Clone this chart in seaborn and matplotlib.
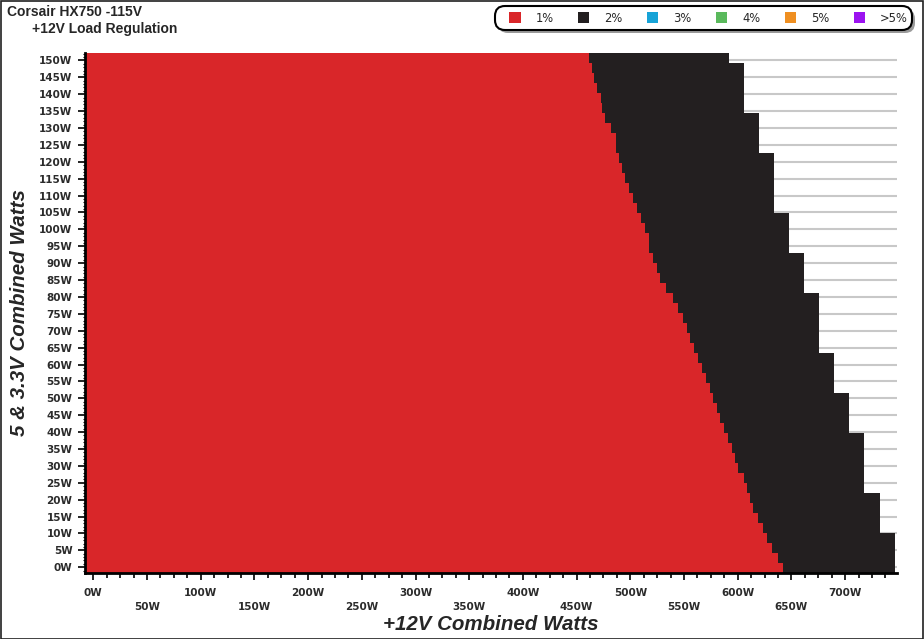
import numpy as np
import pandas as pd
import matplotlib
matplotlib.use("Agg")
import matplotlib.pyplot as plt
import seaborn as sns
from matplotlib.patches import Patch, FancyBboxPatch, Rectangle
from matplotlib.ticker import MultipleLocator, FixedLocator
from matplotlib.transforms import IdentityTransform

sns.set_style("white")
plt.rcParams['font.family'] = ['DejaVu Sans']

# ---------------- data ----------------
# 5 & 3.3V load grid (rows, bottom to top) spanning the plotted range
y_grid_low, y_grid_high, n_rows = -1.7, 152.2, 52
# +12V load where the 1% region ends (per row, bottom -> top)
red_end = [641.9, 637.8, 631.9, 627.0, 623.8, 619.2, 614.6, 611.5, 608.4, 605.9,
           600.6, 597.5, 594.4, 591.2, 587.2, 583.5, 580.4, 577.3, 574.2, 570.5,
           566.5, 563.3, 559.6, 555.6, 552.5, 549.3, 544.1, 540.0, 533.3, 527.7,
           524.6, 520.9, 517.4, 517.4, 513.7, 510.0, 506.0, 502.2, 499.1, 495.1,
           492.0, 489.8, 486.7, 486.7, 482.0, 476.4, 473.6, 472.4, 468.7, 466.2,
           464.3, 461.8]
# +12V load where the 2% region ends (per row, bottom -> top)
black_end = ([746] * 4 + [732] * 4 + [718] * 6 + [704] * 4 + [690] * 4 + [676] * 6 +
             [662] * 4 + [648] * 4 + [634] * 6 + [620] * 4 + [606] * 5 + [592] * 1)

legend_labels = ["1%", "2%", "3%", "4%", "5%", ">5%"]
legend_colors = ["#d92629", "#231f20", "#17a3d7", "#5ab95c", "#ef8f21", "#9b12f0"]

x_ticks = list(range(0, 701, 50))
y_ticks = list(range(0, 151, 5))

edges = np.linspace(y_grid_low, y_grid_high, n_rows + 1)
df = pd.DataFrame({"red": red_end, "black": black_end})

X_MIN, X_MAX = -7.7, 748.0

# ---------------- figure ----------------
W, H = 924, 639
fig = plt.figure(figsize=(W / 100, H / 100), dpi=100)
ax = fig.add_axes([85 / W, 66 / H, 811.7 / W, 520 / H])

ax.stairs(df["black"], edges, orientation="horizontal", baseline=X_MIN, fill=True,
          color=legend_colors[1], lw=0, zorder=2)
ax.stairs(df["red"], edges, orientation="horizontal", baseline=X_MIN, fill=True,
          color=legend_colors[0], lw=0, zorder=3)

ax.set_xlim(X_MIN, X_MAX)
ax.set_ylim(y_grid_low, y_grid_high)

ax.xaxis.set_major_locator(FixedLocator(x_ticks))
ax.xaxis.set_minor_locator(MultipleLocator(12.5))
ax.set_xticklabels([f"{v}W" if v % 100 == 0 else f"\n{v}W" for v in x_ticks])
ax.yaxis.set_major_locator(FixedLocator(y_ticks))
ax.yaxis.set_minor_locator(MultipleLocator(1))
ax.set_yticklabels([f"{v}W" for v in y_ticks])

ax.tick_params(axis="both", which="major", direction="out", length=5, width=1.2,
               color="black", labelsize=7.5, labelcolor="#2b2b2b", pad=4,
               bottom=True, left=True)
ax.tick_params(axis="x", which="major", pad=6)
ax.tick_params(axis="x", which="minor", direction="out", length=3.4, width=1.2,
               color="black", bottom=True)
ax.tick_params(axis="y", which="minor", direction="out", length=1.5, width=0.8,
               color="black", left=True)
for lab in ax.get_xticklabels() + ax.get_yticklabels():
    lab.set_fontweight("bold")
for lab in ax.get_xticklabels():
    lab.set_linespacing(1.45)

ax.set_axisbelow(True)
ax.yaxis.grid(True, which="major", color="#c8c8c8", lw=1.5)
ax.xaxis.grid(False)

for s in ["top", "right"]:
    ax.spines[s].set_visible(False)
for s in ["left", "bottom"]:
    ax.spines[s].set_color("black")
    ax.spines[s].set_linewidth(2)
    ax.spines[s].set_zorder(5)

lab_font = dict(family="Liberation Sans", weight="bold", style="italic", size=14.8)
ax.set_xlabel("+12V Combined Watts", **lab_font)
ax.xaxis.set_label_coords(0.5, -0.08)
ax.set_ylabel("5 & 3.3V Combined Watts", **lab_font)
ax.yaxis.set_label_coords(-0.0685, 0.5)

# titles
fig.text(7 / W, 1 - 12 / H, "Corsair HX750 -115V", family="Liberation Sans",
         weight="bold", size=10, ha="left", va="center")
fig.text(32 / W, 1 - 29 / H, "+12V Load Regulation", family="Liberation Sans",
         weight="bold", size=10, ha="left", va="center")

# legend box with shadow (pixel coordinates)
bx, by, bw, bh = 495, H - 30, 417, 24
shadow = FancyBboxPatch((bx + 3, by - 3), bw, bh, boxstyle="round,pad=0,rounding_size=10",
                        transform=IdentityTransform(), fc="#9a9a9a", ec="none", zorder=1)
frame = FancyBboxPatch((bx, by), bw, bh, boxstyle="round,pad=0,rounding_size=10",
                       transform=IdentityTransform(), fc="white", ec="black", lw=1.5, zorder=2)
fig.add_artist(shadow)
fig.add_artist(frame)
handles = [Patch(facecolor=c, edgecolor="none") for c in legend_colors]
leg = fig.legend(handles, legend_labels, loc="center left",
                 bbox_to_anchor=(509 / W, 1 - 18 / H), ncol=6, frameon=False,
                 fontsize=8.3, handlelength=1.0, handleheight=1.1, handletextpad=1.3,
                 columnspacing=2.1, borderpad=0, borderaxespad=0)
leg.set_zorder(5)

# outer frame
fig.add_artist(Rectangle((0.5 / W, 0.5 / H), 1 - 1.5 / W, 1 - 1.5 / H,
                         transform=fig.transFigure, fill=False, ec="#202020", lw=1.2))

fig.savefig("out.png", dpi=100)
